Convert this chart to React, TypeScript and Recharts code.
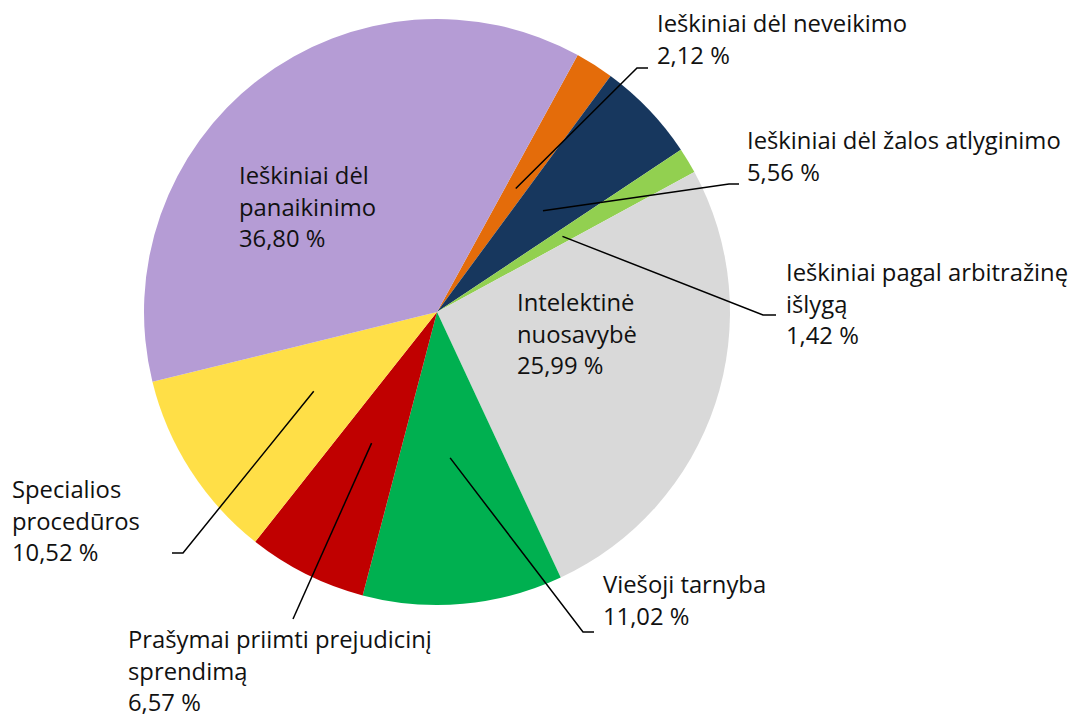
import React from 'react';
import { PieChart, Pie, Cell } from 'recharts';

const categories = [
  'Ieškiniai dėl neveikimo',
  'Ieškiniai dėl žalos atlyginimo',
  'Ieškiniai pagal arbitražinę\nišlygą',
  'Intelektinė\nnuosavybė',
  'Viešoji tarnyba',
  'Prašymai priimti prejudicinį\nsprendimą',
  'Specialios\nprocedūros',
  'Ieškiniai dėl\npanaikinimo',
];
const shares = [2.12, 5.56, 1.42, 25.99, 11.02, 6.57, 10.52, 36.8];
const colors = ['#E46C0A', '#17375E', '#92D050', '#D9D9D9', '#00B050', '#C00000', '#FFDF47', '#B59CD5'];

// label placement: text left x / first baseline, leader elbow + horizontal end (null = inside slice)
const labelLayout = [
  { tx: 657, ty: 32, ex: 637, ey: 68, hx: 648 },
  { tx: 747, ty: 149, ex: 729, ey: 184, hx: 739 },
  { tx: 786, ty: 281, ex: 763, ey: 315, hx: 776 },
  { tx: 517, ty: 311, ex: null, ey: null, hx: null },
  { tx: 603, ty: 593, ex: 583, ey: 632, hx: 594 },
  { tx: 128, ty: 648, ex: 293, ey: 619, hx: 293 },
  { tx: 12, ty: 498, ex: 183, ey: 553, hx: 172 },
  { tx: 239, ty: 184, ex: null, ey: null, hx: null },
];

const data = categories.map((name, i) => ({ name, value: shares[i] }));

const RAD = Math.PI / 180;
const LINE_H = 31.5;

const renderLabel = (props: any) => {
  const { cx, cy, midAngle, outerRadius, index } = props;
  const lay = labelLayout[index];
  const lines = [...categories[index].split('\n'), shares[index].toFixed(2).replace('.', ',') + ' %'];
  let leader = null;
  if (lay.ex !== null) {
    const r = outerRadius * 0.5;
    const sx = cx + r * Math.cos(-midAngle * RAD);
    const sy = cy + r * Math.sin(-midAngle * RAD);
    leader = (
      <path
        d={`M${sx},${sy}L${lay.ex},${lay.ey}L${lay.hx},${lay.ey}`}
        stroke="#000"
        strokeWidth={1.5}
        fill="none"
      />
    );
  }
  return (
    <g key={`lbl-${index}`}>
      {leader}
      <text x={lay.tx} y={lay.ty} fill="#111" fontSize={23.8} fontFamily="'Open Sans', sans-serif">
        {lines.map((ln, j) => (
          <tspan key={j} x={lay.tx} y={lay.ty + j * LINE_H}>
            {ln}
          </tspan>
        ))}
      </text>
    </g>
  );
};

export default function App() {
  return (
    <div style={{ position: 'absolute', left: 0, top: 0, width: 1080, height: 715, background: '#fff' }}>
      <PieChart width={1080} height={715} margin={{ top: 0, right: 0, bottom: 0, left: 0 }}>
        <Pie
          data={data}
          dataKey="value"
          nameKey="name"
          cx={437}
          cy={312}
          outerRadius={293}
          startAngle={61.3}
          endAngle={-298.7}
          stroke="none"
          label={renderLabel}
          labelLine={false}
          isAnimationActive={false}
        >
          {data.map((d, i) => (
            <Cell key={d.name} fill={colors[i]} />
          ))}
        </Pie>
      </PieChart>
    </div>
  );
}
